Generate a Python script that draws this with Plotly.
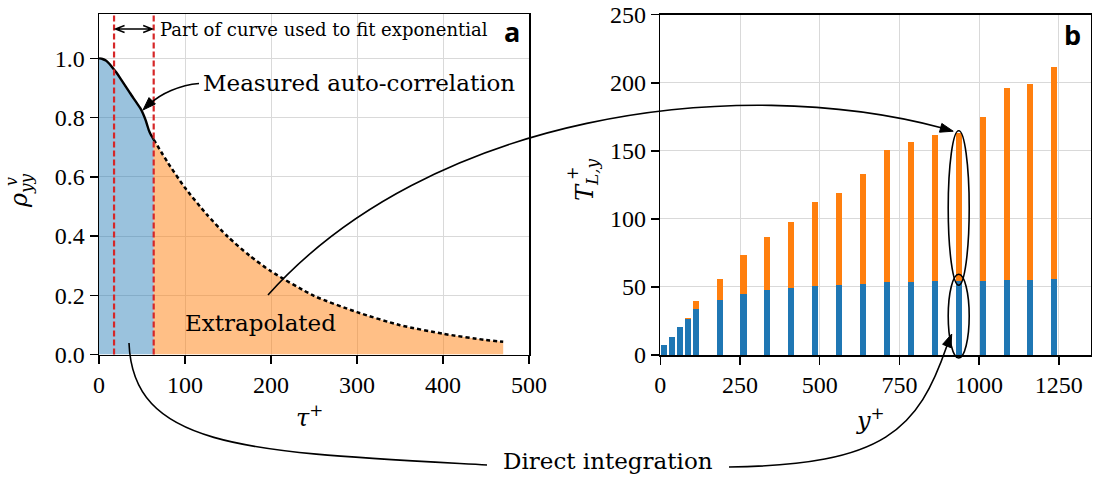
import plotly.graph_objects as go
import math

# ---------------- data ----------------
tau_measured = [0, 4, 8, 12, 16, 20, 25, 30, 35, 40, 45, 48, 51, 54, 56, 58, 60, 62, 63.6]
rho_measured = [1.0, 0.998, 0.993, 0.982, 0.968, 0.953, 0.932, 0.91, 0.888, 0.866,
                0.845, 0.832, 0.815, 0.793, 0.775, 0.757, 0.744, 0.734, 0.726]
tau_extrap = [63.6, 80, 100, 125, 150, 175, 200, 250, 300, 350, 400, 450, 470]
rho_extrap = [0.726, 0.648, 0.563, 0.474, 0.397, 0.334, 0.281, 0.198, 0.143,
              0.099, 0.070, 0.049, 0.043]
fit_window = [17.5, 63.6]

y_plus = [11, 36, 61, 86, 111, 186, 261, 336, 411, 486, 561, 636, 711, 786, 861,
          936, 1011, 1086, 1161, 1236]
T_direct = [7.3, 13.2, 20.6, 26.7, 34.0, 40.6, 45.0, 48.0, 49.2, 50.9, 51.7, 52.4,
            53.4, 53.9, 54.4, 54.6, 54.6, 55.3, 55.3, 56.1]
T_extrap = [0, 0, 0, 0.5, 5.7, 15.2, 28.5, 38.5, 48.3, 61.7, 67.5, 80.3, 97.2,
            102.8, 107.0, 108.7, 120.0, 140.6, 144.0, 155.2]
highlight = 15  # circled bar

x1_ticks = [0, 100, 200, 300, 400, 500]
y1_ticks = [0.0, 0.2, 0.4, 0.6, 0.8, 1.0]
x2_ticks = [0, 250, 500, 750, 1000, 1250]
y2_ticks = [0, 50, 100, 150, 200, 250]

# ---------------- geometry ----------------
W, H = 1097, 482
P1 = dict(x0=99, x1=529, top=14, bot=354.5)      # panel a, pixels
P2 = dict(x0=660.3, x1=1090.7, top=14.7, bot=355)  # panel b, pixels
X1R, Y1R = [0, 500], [0, 1.15]
X2R, Y2R = [0, 1350], [0, 250]

def fx(x):
    return x / W

def fy(y):
    return 1 - y / H

def x1px(v):
    return P1["x0"] + (v - X1R[0]) / (X1R[1] - X1R[0]) * (P1["x1"] - P1["x0"])

def x2px(v):
    return P2["x0"] + (v - X2R[0]) / (X2R[1] - X2R[0]) * (P2["x1"] - P2["x0"])

def y2px(v):
    return P2["bot"] - (v - Y2R[0]) / (Y2R[1] - Y2R[0]) * (P2["bot"] - P2["top"])

def pt(p):
    return f"{fx(p[0]):.5f},{fy(p[1]):.5f}"

def cubic(p0, p1, p2, p3):
    return f"M {pt(p0)} C {pt(p1)} {pt(p2)} {pt(p3)}"

def head(tip, frm, L=13, hw=4.5):
    dx, dy = tip[0] - frm[0], tip[1] - frm[1]
    n = math.hypot(dx, dy)
    dx, dy = dx / n, dy / n
    bx, by = tip[0] - L * dx, tip[1] - L * dy
    a = (bx - hw * dy, by + hw * dx)
    b = (bx + hw * dy, by - hw * dx)
    return f"M {pt(tip)} L {pt(a)} L {pt(b)} Z"

SERIF = "DejaVu Serif, serif"
TICKSERIF = "Liberation Serif, Times New Roman, serif"
TICKF = dict(family=TICKSERIF, size=24, color="black")
GRID = "#d9d9d9"

fig = go.Figure()

# panel a
fig.add_trace(go.Scatter(x=tau_measured, y=rho_measured, mode="lines", fill="tozeroy",
                         fillcolor="rgba(31,119,180,0.45)",
                         line=dict(color="black", width=2.4, shape="spline", smoothing=0.6),
                         xaxis="x", yaxis="y", hoverinfo="skip"))
fig.add_trace(go.Scatter(x=tau_extrap, y=rho_extrap, mode="lines", fill="tozeroy",
                         fillcolor="rgba(255,127,14,0.5)",
                         line=dict(color="black", width=2.5, dash="4px,3px",
                                   shape="spline", smoothing=0.6),
                         xaxis="x", yaxis="y", hoverinfo="skip"))

# panel b
fig.add_trace(go.Bar(x=y_plus, y=T_direct, width=19, marker_color="#1f77b4",
                     marker_line_width=0, xaxis="x2", yaxis="y2", hoverinfo="skip"))
fig.add_trace(go.Bar(x=y_plus, y=T_extrap, width=19, marker_color="#ff7f0e",
                     marker_line_width=0, xaxis="x2", yaxis="y2", hoverinfo="skip"))

def axis(domain, rng, ticks, anchor, ticktext=None):
    d = dict(domain=domain, range=rng, tickmode="array", tickvals=ticks,
             ticks="outside", ticklen=8,
             tickwidth=1.5, tickcolor="black", showline=True, linecolor="black",
             linewidth=1.5, mirror=True, showgrid=True, gridcolor=GRID, gridwidth=1,
             zeroline=False, tickfont=dict(TICKF), anchor=anchor, fixedrange=True,
             automargin=False)
    if ticktext is not None:
        d["ticktext"] = ticktext
    return d

fig.update_layout(
    width=W, height=H, margin=dict(l=0, r=0, t=0, b=0, pad=0, autoexpand=False),
    font=dict(family=TICKSERIF, size=24, color="black"),
    paper_bgcolor="white", plot_bgcolor="white", showlegend=False,
    barmode="stack", bargap=0, hovermode=False,
    xaxis=axis([fx(P1["x0"]), fx(P1["x1"])], X1R, x1_ticks, "y"),
    yaxis=axis([fy(P1["bot"]), fy(P1["top"])], Y1R, y1_ticks, "x",
               [f"{v:.1f}" for v in y1_ticks]),
    xaxis2=axis([fx(P2["x0"]), fx(P2["x1"])], X2R, x2_ticks, "y2"),
    yaxis2=axis([fy(P2["bot"]), fy(P2["top"])], Y2R, y2_ticks, "x2"),
)

shapes = []
# red dashed fit window
for v in fit_window:
    shapes.append(dict(type="line", xref="x", yref="y domain", x0=v, x1=v, y0=0, y1=1,
                       line=dict(color="#d62728", width=2.2, dash="6px,3px")))

# double arrow between fit window lines
ya = 29
xa, xb = x1px(fit_window[0]) + 1.5, x1px(fit_window[1]) - 1.5
shapes.append(dict(type="path", xref="paper", yref="paper",
                   path=f"M {pt((xa, ya))} L {pt((xb, ya))} "
                        f"M {pt((xa + 9, ya - 3.5))} L {pt((xa, ya))} L {pt((xa + 9, ya + 3.5))} "
                        f"M {pt((xb - 9, ya - 3.5))} L {pt((xb, ya))} L {pt((xb - 9, ya + 3.5))}",
                   line=dict(color="black", width=1.5)))

LINE = dict(color="black", width=1.6)
HEAD = dict(type="path", xref="paper", yref="paper", fillcolor="black",
            line=dict(color="black", width=1))

# measured auto-correlation arrow
tipM = (143, 110)
shapes.append(dict(type="path", xref="paper", yref="paper",
                   path=cubic((199, 83.5), (180, 85), (160, 94), (150, 104)), line=LINE))
shapes.append(dict(HEAD, path=head(tipM, (152, 101))))

# ellipses around highlighted bar
cx = x2px(y_plus[highlight])
hwid = 10.5
tot = T_direct[highlight] + T_extrap[highlight]
up_top, up_bot = y2px(tot) - 2, y2px(T_direct[highlight]) + 4.5
lo_top, lo_bot = y2px(T_direct[highlight]) - 6.5, y2px(0) + 3
for t, b in [(up_top, up_bot), (lo_top, lo_bot)]:
    shapes.append(dict(type="circle", xref="paper", yref="paper",
                       x0=fx(cx - hwid), x1=fx(cx + hwid), y0=fy(b), y1=fy(t),
                       line=dict(color="black", width=1.6)))

# big arrow: extrapolated -> upper ellipse
tipB = (cx - 5.5, up_top + 0.5)
p2B = (733, 72)
shapes.append(dict(type="path", xref="paper", yref="paper",
                   path=cubic((268, 295), (428, 116), p2B, (tipB[0] - 10, tipB[1] - 3)),
                   line=LINE))
shapes.append(dict(HEAD, path=head(tipB, (tipB[0] - 20, tipB[1] - 5.4))))

# direct integration: left curve
shapes.append(dict(type="path", xref="paper", yref="paper",
                   path=cubic((129, 343), (133, 450), (250, 452), (487, 465)), line=LINE))
# direct integration: right curve with arrow
tipD = (cx - 7, 334)
shapes.append(dict(type="path", xref="paper", yref="paper",
                   path=cubic((729, 467), (885, 465), (918, 430), (tipD[0] - 4.5, tipD[1] + 11)),
                   line=LINE))
shapes.append(dict(HEAD, path=head(tipD, (tipD[0] - 9, tipD[1] + 22))))

fig.update_layout(shapes=shapes)

def ann(text, x, y, size=23, xanchor="left", yanchor="middle", family=SERIF,
        angle=0, weight=None):
    f = dict(family=family, size=size, color="black")
    if weight:
        f["weight"] = weight
    return dict(text=text, x=fx(x), y=fy(y), xref="paper", yref="paper",
                xanchor=xanchor, yanchor=yanchor, showarrow=False, font=f,
                textangle=angle)

anns = [
    ann("Part of curve used to fit exponential", 158, 29, size=18),
    ann("Measured auto-correlation", 201, 83, size=23),
    ann("Extrapolated", 183, 323, size=23),
    ann("Direct integration", 608, 461, size=23, xanchor="center"),
    ann("a", 512, 32, size=27, xanchor="center", family="Open Sans, sans-serif", weight="bold"),
    ann("b", 1072, 35, size=27, xanchor="center", family="Open Sans, sans-serif", weight="bold"),
    ann("<i>τ</i><sup>+</sup>", 309, 416, size=24, xanchor="center"),
    ann("<i>y</i><sup>+</sup>", 870, 419, size=24, xanchor="center"),
    ann("<i>ρ</i><sub><i>yy</i></sub>", 21, 191, size=24, xanchor="center", angle=-90),
    ann("<i>v</i>", 11, 182, size=16, xanchor="center", angle=-90),
    ann("<i>T</i><sub><i>L,y</i></sub>", 586, 180, size=24, xanchor="center", angle=-90),
    ann("+", 572, 174, size=16, xanchor="center", angle=-90),
]
fig.update_layout(annotations=anns)

fig.write_html("out.html",
               config={"displayModeBar": False, "staticPlot": True},
               post_script="document.body.style.margin='0px';"
                           "document.body.style.padding='0px';"
                           "document.body.style.overflow='hidden';")
